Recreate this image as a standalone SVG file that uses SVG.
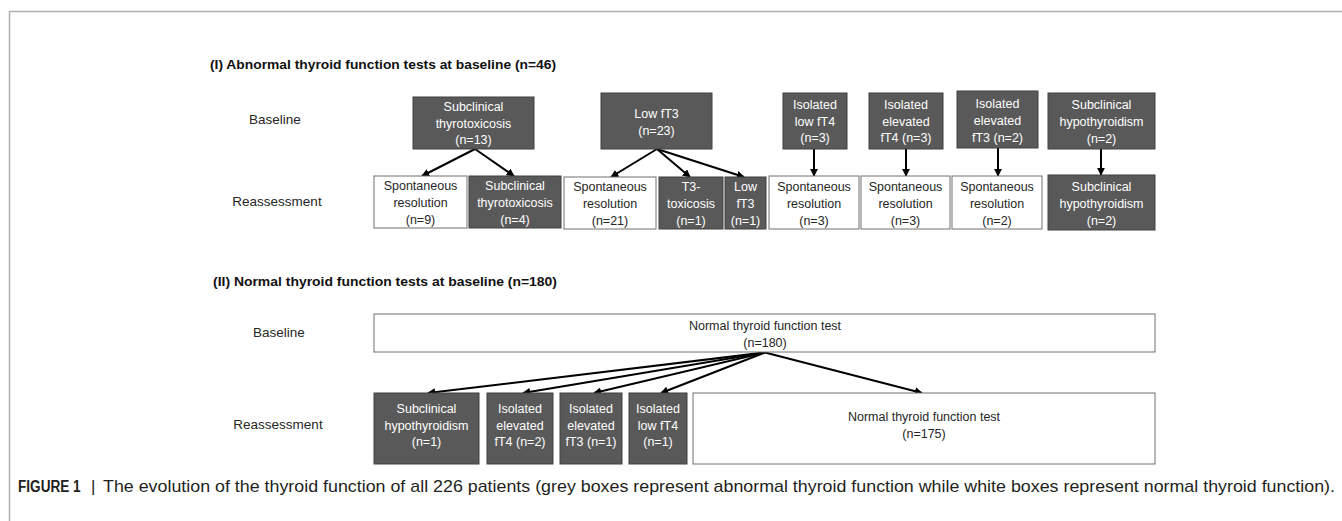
<svg xmlns="http://www.w3.org/2000/svg" width="1342" height="521" viewBox="0 0 1342 521">
<defs>
<style>
.g{fill:#595959;stroke:#404040;stroke-width:1}
.w{fill:#ffffff;stroke:#707070;stroke-width:1}
.t{font-family:"Liberation Sans",Arial,sans-serif;font-size:12.5px;text-anchor:middle}
.tg{fill:#ffffff}
.tw{fill:#262626}
.lab{font-family:"Liberation Sans",Arial,sans-serif;font-size:13.5px;fill:#262626;text-anchor:middle}
.ttl{font-family:"Liberation Sans",Arial,sans-serif;font-size:13px;font-weight:bold;fill:#111}
.cap{font-family:"Liberation Sans",Arial,sans-serif;font-size:17px;fill:#231f20}
.c{stroke:#000;stroke-width:2;fill:none;marker-end:url(#ah)}
</style>
<marker id="ah" viewBox="0 0 10 10" refX="9" refY="5" markerWidth="4" markerHeight="4" orient="auto" markerUnits="strokeWidth">
<path d="M0,0 L10,5 L0,10 z" fill="#000"/>
</marker>
</defs>
<rect width="1342" height="521" fill="#fff"/>
<path d="M9.5,521 V11.5 H1342" fill="none" stroke="#b0b0b0" stroke-width="1.5"/>

<g id="titles">
<text class="ttl" x="210" y="68.5" textLength="346" lengthAdjust="spacingAndGlyphs">(I) Abnormal thyroid function tests at baseline (n=46)</text>
<text class="ttl" x="213" y="285.5" textLength="344" lengthAdjust="spacingAndGlyphs">(II) Normal thyroid function tests at baseline (n=180)</text>
<text class="lab" x="275" y="124">Baseline</text>
<text class="lab" x="277" y="206">Reassessment</text>
<text class="lab" x="279" y="337">Baseline</text>
<text class="lab" x="278" y="429">Reassessment</text>
</g>

<g id="connectors">
<line class="c" x1="475" y1="149" x2="422" y2="176"/>
<line class="c" x1="475" y1="149" x2="514" y2="176"/>
<line class="c" x1="657" y1="149" x2="611" y2="177"/>
<line class="c" x1="657" y1="149" x2="690" y2="177"/>
<line class="c" x1="657" y1="149" x2="744" y2="177"/>
<line class="c" x1="814" y1="149" x2="814" y2="176"/>
<line class="c" x1="906" y1="149" x2="906" y2="176"/>
<line class="c" x1="998" y1="148" x2="998" y2="176"/>
<line class="c" x1="1101" y1="149" x2="1101" y2="175"/>
<line class="c" x1="765" y1="352.5" x2="428" y2="393"/>
<line class="c" x1="765" y1="352.5" x2="523" y2="393"/>
<line class="c" x1="765" y1="352.5" x2="594" y2="393"/>
<line class="c" x1="765" y1="352.5" x2="661" y2="393"/>
<line class="c" x1="765" y1="352.5" x2="922" y2="393"/>
</g>

<g id="b1"><rect class="g" x="413" y="97" width="121" height="52"/>
<text class="t tg" x="473.5" y="110.8">Subclinical</text><text class="t tg" x="473.5" y="127.5">thyrotoxicosis</text><text class="t tg" x="473.5" y="144.2">(n=13)</text></g>
<g id="b2"><rect class="g" x="601" y="93" width="111" height="56"/>
<text class="t tg" x="656.5" y="117.8">Low fT3</text><text class="t tg" x="656.5" y="134.5">(n=23)</text></g>
<g id="b3"><rect class="g" x="783" y="93" width="64" height="56"/>
<text class="t tg" x="815" y="108.5">Isolated</text><text class="t tg" x="815" y="125.5">low fT4</text><text class="t tg" x="815" y="142.2">(n=3)</text></g>
<g id="b4"><rect class="g" x="869" y="93" width="74" height="56"/>
<text class="t tg" x="906" y="108.5">Isolated</text><text class="t tg" x="906" y="125.5">elevated</text><text class="t tg" x="906" y="142.2">fT4 (n=3)</text></g>
<g id="b5"><rect class="g" x="957" y="91" width="81" height="57"/>
<text class="t tg" x="997.5" y="107.8">Isolated</text><text class="t tg" x="997.5" y="124.5">elevated</text><text class="t tg" x="997.5" y="141.5">fT3 (n=2)</text></g>
<g id="b6"><rect class="g" x="1048" y="93" width="107" height="56"/>
<text class="t tg" x="1101.5" y="108.8">Subclinical</text><text class="t tg" x="1101.5" y="126.2">hypothyroidism</text><text class="t tg" x="1101.5" y="142.5">(n=2)</text></g>

<g id="r1"><rect class="w" x="374" y="176" width="93" height="52"/>
<text class="t tw" x="420.5" y="190.2">Spontaneous</text><text class="t tw" x="420.5" y="207.2">resolution</text><text class="t tw" x="420.5" y="224.2">(n=9)</text></g>
<g id="r2"><rect class="g" x="469" y="176" width="92" height="52"/>
<text class="t tg" x="515" y="190.2">Subclinical</text><text class="t tg" x="515" y="207.2">thyrotoxicosis</text><text class="t tg" x="515" y="224.2">(n=4)</text></g>
<g id="r3"><rect class="w" x="564" y="177" width="92" height="52"/>
<text class="t tw" x="610" y="190.5">Spontaneous</text><text class="t tw" x="610" y="207.5">resolution</text><text class="t tw" x="610" y="224.5">(n=21)</text></g>
<g id="r4"><rect class="g" x="659" y="177" width="64" height="52"/>
<text class="t tg" x="691" y="190.5">T3-</text><text class="t tg" x="691" y="207.5">toxicosis</text><text class="t tg" x="691" y="224.5">(n=1)</text></g>
<g id="r5"><rect class="g" x="725" y="177" width="41" height="52"/>
<text class="t tg" x="745.5" y="190.5">Low</text><text class="t tg" x="745.5" y="207.5">fT3</text><text class="t tg" x="745.5" y="224.5">(n=1)</text></g>
<g id="r6"><rect class="w" x="769" y="176" width="90" height="53"/>
<text class="t tw" x="814" y="190.5">Spontaneous</text><text class="t tw" x="814" y="207.5">resolution</text><text class="t tw" x="814" y="224.5">(n=3)</text></g>
<g id="r7"><rect class="w" x="861" y="176" width="89" height="53"/>
<text class="t tw" x="905.5" y="190.5">Spontaneous</text><text class="t tw" x="905.5" y="207.5">resolution</text><text class="t tw" x="905.5" y="224.5">(n=3)</text></g>
<g id="r8"><rect class="w" x="952" y="176" width="90" height="53"/>
<text class="t tw" x="997" y="190.5">Spontaneous</text><text class="t tw" x="997" y="207.5">resolution</text><text class="t tw" x="997" y="224.5">(n=2)</text></g>
<g id="r9"><rect class="g" x="1048" y="175" width="107" height="55"/>
<text class="t tg" x="1101.5" y="190.5">Subclinical</text><text class="t tg" x="1101.5" y="207.5">hypothyroidism</text><text class="t tg" x="1101.5" y="224.5">(n=2)</text></g>

<g id="n0"><rect class="w" x="374" y="314" width="781" height="38"/>
<text class="t tw" x="765" y="329.5">Normal thyroid function test</text><text class="t tw" x="765" y="347">(n=180)</text></g>

<g id="n1"><rect class="g" x="374" y="393" width="105" height="71"/>
<text class="t tg" x="426.5" y="412.8">Subclinical</text><text class="t tg" x="426.5" y="429.5">hypothyroidism</text><text class="t tg" x="426.5" y="446.2">(n=1)</text></g>
<g id="n2"><rect class="g" x="487" y="393" width="66" height="71"/>
<text class="t tg" x="520" y="412.8">Isolated</text><text class="t tg" x="520" y="429.5">elevated</text><text class="t tg" x="520" y="446.2">fT4 (n=2)</text></g>
<g id="n3"><rect class="g" x="560" y="393" width="62" height="71"/>
<text class="t tg" x="591" y="412.8">Isolated</text><text class="t tg" x="591" y="429.5">elevated</text><text class="t tg" x="591" y="446.2">fT3 (n=1)</text></g>
<g id="n4"><rect class="g" x="629" y="393" width="58" height="71"/>
<text class="t tg" x="658" y="412.8">Isolated</text><text class="t tg" x="658" y="429.5">low fT4</text><text class="t tg" x="658" y="446.2">(n=1)</text></g>
<g id="n5"><rect class="w" x="693" y="393" width="462" height="71"/>
<text class="t tw" x="924" y="421.2">Normal thyroid function test</text><text class="t tw" x="924" y="437.5">(n=175)</text></g>

<g id="caption">
<text class="cap" transform="translate(18,491.5) scale(0.8,1)" x="0" y="0" font-weight="bold">FIGURE 1</text>
<text class="cap" x="91" y="491.5" fill="#777">|</text>
<text class="cap" x="103" y="491.5" textLength="1232" lengthAdjust="spacingAndGlyphs">The evolution of the thyroid function of all 226 patients (grey boxes represent abnormal thyroid function while white boxes represent normal thyroid function).</text>
</g>
</svg>
